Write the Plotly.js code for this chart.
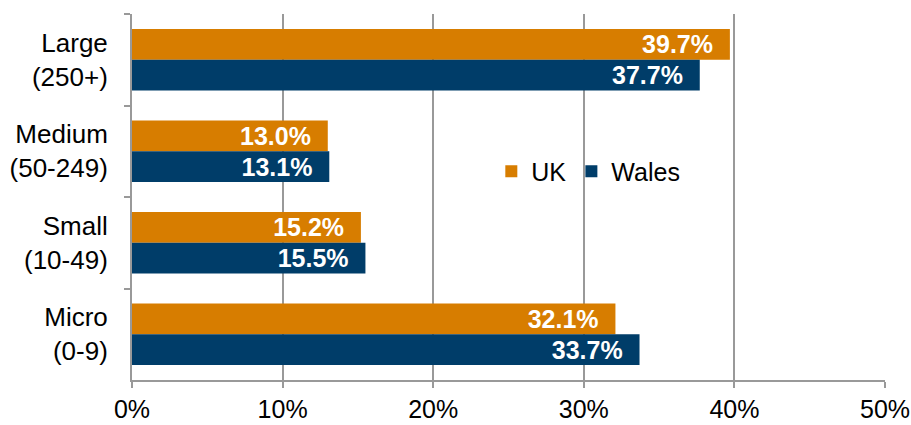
<!DOCTYPE html>
<html>
<head>
<meta charset="utf-8">
<script src="https://cdn.plot.ly/plotly-3.0.1.min.js"></script>
<style>html,body{margin:0;padding:0;background:#fff;}#chart{width:911px;height:425px;}</style>
</head>
<body>
<div id="chart"></div>
<script>
const categories = ["Large<br>(250+)", "Medium<br>(50-249)", "Small<br>(10-49)", "Micro<br>(0-9)"];
const ukValues = [39.7, 13.0, 15.2, 32.1];
const walesValues = [37.7, 13.1, 15.5, 33.7];
const xTickValues = [0, 10, 20, 30, 40, 50];
const xTickLabels = ["0%", "10%", "20%", "30%", "40%", "50%"];

const pad = "\u00a0\u00a0";
function mk(name, vals, color) {
  return {
    type: "bar", orientation: "h", name: name,
    y: categories, x: vals,
    marker: {color: color},
    text: vals.map(v => v.toFixed(1) + "%" + pad),
    textposition: "inside", insidetextanchor: "end",
    textfont: {family: "Liberation Sans, Arial, sans-serif", size: 25, color: "#ffffff", weight: "bold"},
    constraintext: "none",
    hoverinfo: "skip", cliponaxis: false
  };
}
const data = [mk("UK", ukValues, "#D77D00"), mk("Wales", walesValues, "#003D69")];
const layout = {
  width: 911, height: 425,
  margin: {l: 132, r: 26, t: 14, b: 45},
  paper_bgcolor: "#fff", plot_bgcolor: "#fff",
  barmode: "group", bargap: 0.33, bargroupgap: 0,
  font: {family: "Liberation Sans, Arial, sans-serif", size: 25, color: "#000"},
  showlegend: true,
  legend: {orientation: "h", x: 0.606, y: 0.57, xanchor: "center", yanchor: "middle",
    font: {size: 25, color: "#000"}, bgcolor: "rgba(0,0,0,0)", itemwidth: 30, tracegroupgap: 0},
  xaxis: {range: [0, 50], tickvals: xTickValues, ticktext: xTickLabels,
    showgrid: true, gridcolor: "#999999", gridwidth: 2,
    showline: true, linecolor: "#999999", linewidth: 2,
    ticks: "outside", ticklen: 6, tickwidth: 2, tickcolor: "#999999",
    zeroline: false, fixedrange: true, tickfont: {size: 25}},
  yaxis: {autorange: "reversed", type: "category",
    showline: true, linecolor: "#999999", linewidth: 2,
    ticks: "outside", tickson: "boundaries", ticklen: 6, tickwidth: 2, tickcolor: "#999999",
    showgrid: false, ticklabelstandoff: 17, tickfont: {size: 26}, fixedrange: true}
};
Plotly.newPlot("chart", data, layout, {displayModeBar: false, staticPlot: true});
</script>
</body>
</html>
